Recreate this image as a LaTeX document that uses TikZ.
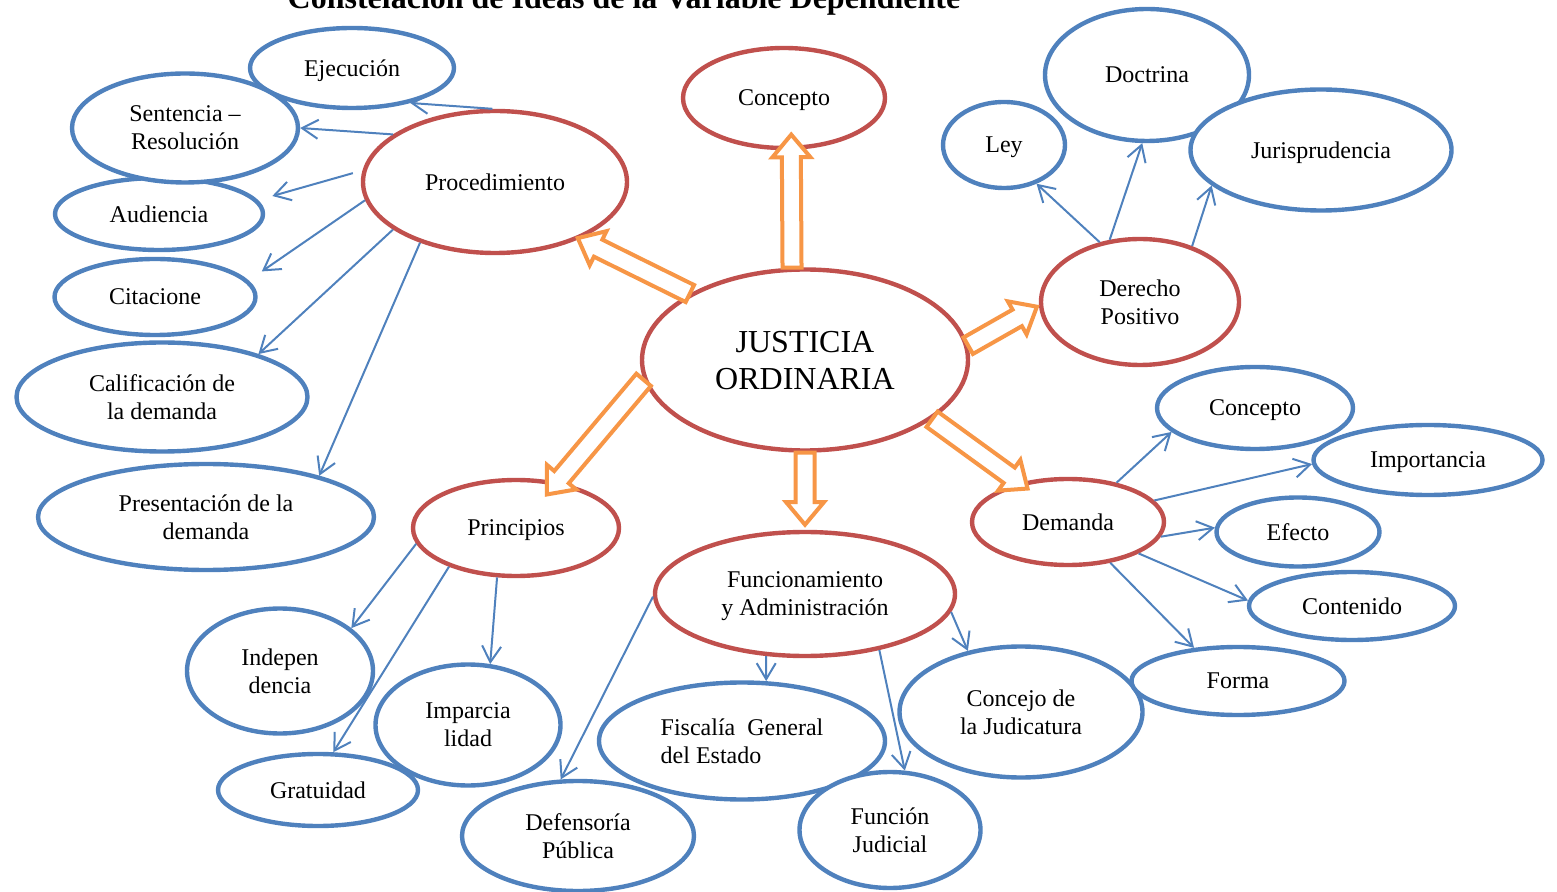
\documentclass[tikz,border=0pt]{standalone}
\usepackage{fontspec}
\setmainfont{Liberation Serif}
\usetikzlibrary{shapes.geometric,shapes.arrows,arrows.meta}

\definecolor{rojo}{HTML}{C0504D}
\definecolor{azul}{HTML}{4F81BD}
\definecolor{naranja}{HTML}{F79646}

\begin{document}
\begin{tikzpicture}[x=0.5pt,y=-0.5pt]
		\tikzset{tema/.style = {ellipse, draw=rojo, fill=white, line width=2.2pt, inner sep=0pt, text depth=0pt, align=center, font=\fontsize{12}{14}\selectfont}}
		\tikzset{idea/.style = {ellipse, draw=azul, fill=white, line width=2.2pt, inner sep=0pt, text depth=0pt, align=center, font=\fontsize{12}{14}\selectfont}}
		\tikzset{rama/.style = {draw=azul, line width=1pt, -{Straight Barb[length=8pt,width=9.5pt]}}}
		\tikzset{bloque/.style = {single arrow, draw=naranja, fill=white, line width=2pt, inner xsep=0pt, inner ysep=3.75pt,
				single arrow head extend=4.75pt, single arrow tip angle=80, outer sep=0pt,
				pos=0, sloped, allow upside down, anchor=tail}}
		
		\useasboundingbox (0,0) rectangle (1557,892);
		
		\node[anchor=base, font=\fontsize{16}{19}\selectfont\bfseries] (titulo) at (624,9) {Constelación de Ideas de la Variable Dependiente};
		
		% centro
		\node[tema, minimum width=163pt, minimum height=90.5pt, font=\fontsize{16}{18.5}\selectfont] (jus) at ( 805, 360) {JUSTICIA\\ORDINARIA};
		
		% temas
		\node[tema, minimum width=101pt, minimum height=50pt]   (conA) at ( 784,  98) {Concepto};
		\node[tema, minimum width=132pt, minimum height=71pt]   (proc) at ( 495, 182) {Procedimiento};
		\node[tema, minimum width=99pt,  minimum height=63pt]   (der)  at (1140, 302) {Derecho\\Positivo};
		\node[tema, minimum width=103pt, minimum height=48pt]   (prin) at ( 516, 528) {Principios};
		\node[tema, minimum width=150pt, minimum height=62pt]   (fun)  at ( 805, 594) {Funcionamiento\\y Administración};
		\node[tema, minimum width=96pt,  minimum height=43pt]   (dem)  at (1068, 522) {Demanda};
		
		% ideas
		\node[idea, minimum width=102pt,   minimum height=40pt]   (eje)  at ( 352,  68) {Ejecución};
		\node[idea, minimum width=104pt,   minimum height=36pt]   (aud)  at ( 159, 214) {Audiencia};
		\node[idea, minimum width=113pt,   minimum height=54.5pt] (sen)  at ( 185, 128) {Sentencia –\\Resolución};
		\node[idea, minimum width=100.5pt, minimum height=38pt]   (cit)  at ( 155, 297) {Citacione};
		\node[idea, minimum width=145.5pt, minimum height=54.5pt] (cal)  at ( 162, 397) {Calificación de\\la demanda};
		\node[idea, minimum width=168pt,   minimum height=53pt]   (pre)  at ( 206, 517) {Presentación de la\\demanda};
		
		\node[idea, minimum width=93pt,    minimum height=62.5pt] (ind)  at ( 280, 671) {Indepen\\dencia};
		\node[idea, minimum width=100pt,   minimum height=36pt]   (gra)  at ( 318, 790) {Gratuidad};
		\node[idea, minimum width=92.5pt,  minimum height=60.5pt] (imp)  at ( 468, 725) {Imparcia\\lidad};
		
		\node[idea, minimum width=143pt,   minimum height=58.5pt, align=left] (fis) at ( 742, 741) {Fiscalía~ General\\del Estado};
		\node[idea, minimum width=116pt,   minimum height=55pt]   (def)  at ( 578, 836) {Defensoría\\Pública};
		\node[idea, minimum width=90.5pt,  minimum height=58pt]   (fjud) at ( 890, 830) {Función\\Judicial};
		\node[idea, minimum width=121.5pt, minimum height=65.5pt] (cjud) at (1021, 712) {Concejo de\\la Judicatura};
		
		\node[idea, minimum width=98pt,    minimum height=41pt]   (conB) at (1255, 408) {Concepto};
		\node[idea, minimum width=114.5pt, minimum height=35pt]   (imtc) at (1428, 460) {Importancia};
		\node[idea, minimum width=81.5pt,  minimum height=34.5pt] (efe)  at (1298, 532) {Efecto};
		\node[idea, minimum width=103pt,   minimum height=34pt]   (cont) at (1352, 606) {Contenido};
		\node[idea, minimum width=106.5pt, minimum height=34pt]   (for)  at (1238, 681) {Forma};
		
		\node[idea, minimum width=61pt,    minimum height=43pt]   (ley)  at (1004, 145) {Ley};
		\node[idea, minimum width=102pt,   minimum height=66pt]   (doc)  at (1147,  75) {Doctrina};
		\node[idea, minimum width=130.5pt, minimum height=60.5pt] (jur)  at (1321, 150) {Jurisprudencia};
		
		% ramas
		\draw[rama] (proc.92)  to (eje.-31);
		\draw[rama] (proc.155) to (sen.0);
		\draw[rama, shorten <=5pt, shorten >=7.5pt] (proc.175) to (aud.8);
		\draw[rama, shorten >=8pt] (proc.188) to (cit.10);
		\draw[rama] (proc.205) to (cal.24);
		\draw[rama] (proc.219) to (pre.20);
		
		\draw[rama] (prin.189) to (ind.31);
		\draw[rama] (prin.210) to (gra.68);
		\draw[rama] (prin.249) to (imp.70);
		
		\draw[rama] (fun.181) to (def.107);
		\draw[rama] (fun.238) to (fis.68);
		\draw[rama] (fun.323) to (fjud.76);
		\draw[rama] (fun.353) to (cjud.131);
		
		\draw[rama] (dem.39)  to (conB.196);
		\draw[rama] (dem.14)  to (imtc.182);
		\draw[rama] (dem.351) to (efe.177);
		\draw[rama] (dem.336) to (cont.177);
		\draw[rama] (dem.316) to (for.143);
		
		\draw[rama] (der.124) to (ley.310);
		\draw[rama] (der.116) to (doc.266);
		\draw[rama] (der.47)  to (jur.198);
		
		% flechas gruesas
		\path (jus.98)  -- (conA.-82) node[bloque, minimum height=66.5pt] (f1) {};
		\path (jus.150) -- (proc.-34) node[bloque, minimum height=62.5pt] (f2) {};
		\path (jus.5)   -- (der.182)  node[bloque, minimum height=39.5pt] (f3) {};
		\path (jus.-25) -- (dem.141)  node[bloque, minimum height=59pt]   (f4) {};
		\path (jus.187) -- (prin.48)  node[bloque, minimum height=75pt]   (f5) {};
		\path (jus.270) -- (fun.90)   node[bloque, minimum height=36pt]   (f6) {};
\end{tikzpicture}
\end{document}
